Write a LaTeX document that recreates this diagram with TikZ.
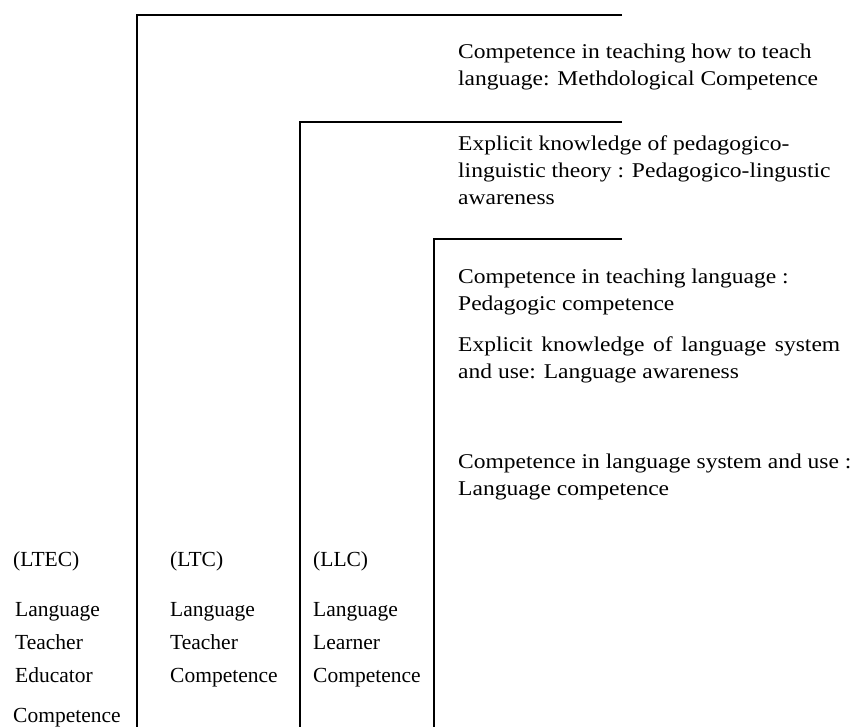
\documentclass[tikz,border=0pt]{standalone}
\usepackage{fontspec}
\setmainfont{Liberation Serif}[FakeStretch=1.12]
\newfontfamily\lblfont{Liberation Serif}
\begin{document}
\begin{tikzpicture}[x=1pt,y=-1pt,
  bar/.style={line width=2.5pt, line join=miter},
  txt/.style={anchor=base west, inner sep=0pt, align=left, font=\fontsize{21}{27}\selectfont},
  lbl/.style={anchor=base west, inner sep=0pt, align=left, font=\lblfont\fontsize{21.5}{33}\selectfont}]
\useasboundingbox (0,0) rectangle (850,726);
% brackets
\coordinate (t1) at (622,15);  \coordinate (b1) at (137,727);
\coordinate (t2) at (622,122); \coordinate (b2) at (300,727);
\coordinate (t3) at (622,239); \coordinate (b3) at (434,727);
\draw[bar] (t1) -| (b1);
\draw[bar] (t2) -| (b2);
\draw[bar] (t3) -| (b3);
% right texts (anchor = baseline of the last line)
\node[txt] (m1) at (458,85) {Competence in teaching how to teach\\language: Methdological Competence};
\node[txt] (m2) at (458,204) {Explicit knowledge of pedagogico-\\linguistic theory : Pedagogico-lingustic\\awareness};
\node[txt] (p1) at (458,310) {Competence in teaching language :\\Pedagogic competence};
\node[txt] (p2) at (458,378) {\hbox to 382pt{Explicit\hfill knowledge\hfill of\hfill language\hfill system}\\and use: Language awareness};
\node[txt] (p3) at (458,495) {Competence in language system and use :\\Language competence};
% left labels
\node[lbl] (ltec) at (13,566) {(LTEC)};
\node[lbl] (ltecn) at (15,682) {Language\\Teacher\\Educator};
\node[lbl] (ltecc) at (13,722) {Competence};
\node[lbl] (ltc) at (170,566) {(LTC)};
\node[lbl] (ltcn) at (170,682) {Language\\Teacher\\Competence};
\node[lbl] (llc) at (313,566) {(LLC)};
\node[lbl] (llcn) at (313,682) {Language\\Learner\\Competence};
\end{tikzpicture}
\end{document}
